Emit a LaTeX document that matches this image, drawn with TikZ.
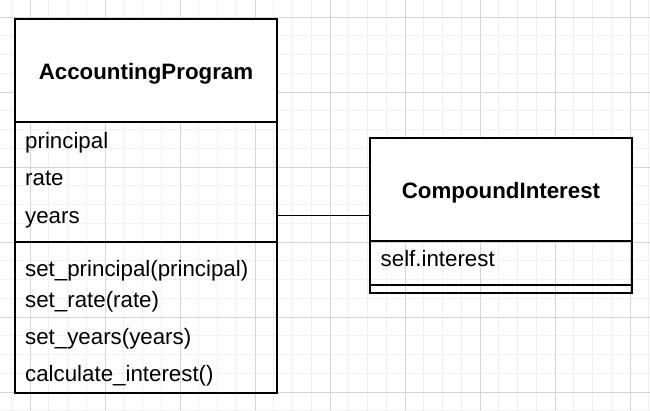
\documentclass[tikz,border=0pt]{standalone}
\usepackage{fontspec}
\setmainfont{Liberation Sans}
\usetikzlibrary{fit}
\definecolor{minorline}{HTML}{F1F1F1}
\definecolor{majorline}{HTML}{D4D4D4}
\begin{document}
\begin{tikzpicture}[x=1pt,y=-1pt,
	compartment/.style={rectangle,draw=black,line width=1.9pt,minimum width=262pt,inner sep=0pt},
	classname/.style={anchor=base,inner sep=0pt,font=\fontsize{22.3}{26}\selectfont\bfseries},
	member/.style={anchor=base west,inner sep=0pt,font=\fontsize{22.3}{26}\selectfont}]
		\useasboundingbox (0,0) rectangle (650,410);
		\fill[white] (0,0) rectangle (650,410);

		\begin{scope}[draw=minorline,line width=1pt]
			\foreach \i in {-1,...,33} \draw ({30+18.75*\i},0) -- ({30+18.75*\i},410);
			\foreach \j in {-1,...,21} \draw (0,{17+18.75*\j}) -- (650,{17+18.75*\j});
		\end{scope}
		\begin{scope}[draw=majorline,line width=1pt]
			\foreach \i in {0,...,8} \draw ({30+75*\i},0) -- ({30+75*\i},410);
			\foreach \j in {0,...,5} \draw (0,{17+75*\j}) -- (650,{17+75*\j});
		\end{scope}

		\begin{scope}[every node/.style={compartment}]
			\node[fill=white,minimum height=103pt] (progHead) at (146,70.5) {};
			\node[minimum height=120pt] (progAttr) at (146,182) {};
			\node[minimum height=151pt] (progOps) at (146,317.5) {};
			\node[fill=white,minimum height=102.4pt] (ciHead) at (501,189.5) {};
			\node[minimum height=44.3pt] (ciAttr) at (501,262.85) {};
			\node[minimum height=7.7pt] (ciOps) at (501,288.85) {};
		\end{scope}

		\node[classname] (progName) at (146,79) {AccountingProgram};
		\node[classname] (ciName) at (501,198.5) {CompoundInterest};

		\begin{scope}[every node/.style={member}]
			\node (principal) at (25,148) {principal};
			\node (rate) at (25,185.5) {rate};
			\node (years) at (25,223) {years};
			\node (setPrincipal) at (25,276) {set\_principal(principal)};
			\node (setRate) at (25,307) {set\_rate(rate)};
			\node (setYears) at (25,344) {set\_years(years)};
			\node (calcInterest) at (25,381.5) {calculate\_interest()};
			\node (interest) at (380.5,266.5) {self.interest};
		\end{scope}

		\node[fit=(ciHead)(ciOps),inner sep=0pt] (ciBox) {};
		\draw[line width=1.7pt] (ciBox.west) -- (ciBox.west -| progAttr.east);

	\end{tikzpicture}
\end{document}
